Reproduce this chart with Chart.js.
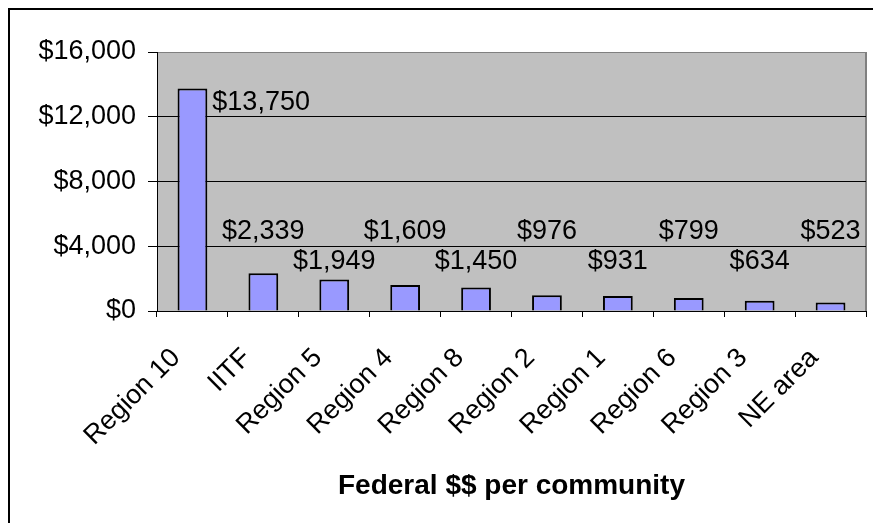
<!DOCTYPE html>
<html>
<head>
<meta charset="utf-8">
<title>Federal $$ per community</title>
<script src="https://cdn.jsdelivr.net/npm/chart.js@4.4.1/dist/chart.umd.min.js"></script>
<style>
  html, body { margin: 0; padding: 0; background: #fff; }
  #wrap { width: 873px; height: 523px; position: relative; }
</style>
</head>
<body>
<div id="wrap"><canvas id="funding-chart" width="873" height="523"></canvas></div>
<script>
const regions = ['Region 10', 'IITF', 'Region 5', 'Region 4', 'Region 8', 'Region 2', 'Region 1', 'Region 6', 'Region 3', 'NE area'];
const perCommunity = [13750, 2339, 1949, 1609, 1450, 976, 931, 799, 634, 523];
const yTicks = [0, 4000, 8000, 12000, 16000];

const FONT = "'Liberation Sans', Arial, sans-serif";

const dollars = v => '$' + Number(v).toLocaleString('en-US');

// white page, outer frame, grey plot area and its right edge
const framePlugin = {
  id: 'frame',
  beforeDraw(chart) {
    const { ctx, chartArea: a } = chart;
    ctx.save();
    ctx.fillStyle = '#fff';
    ctx.fillRect(0, 0, chart.width, chart.height);
    ctx.strokeStyle = '#000';
    ctx.lineWidth = 2;
    ctx.strokeRect(9, 9, chart.width + 20, chart.height + 20);
    ctx.fillStyle = '#c0c0c0';
    ctx.fillRect(a.left, a.top, a.right - a.left, a.bottom - a.top);
    ctx.strokeStyle = '#808080';
    ctx.beginPath();
    ctx.moveTo(a.right, a.top);
    ctx.lineTo(a.right, a.bottom);
    ctx.stroke();
    ctx.restore();
  }
};

// slanted category names, hung a little left of and below each tick
const categoryLabels = {
  id: 'categoryLabels',
  afterDraw(chart) {
    const { ctx, chartArea: a } = chart;
    const x = chart.scales.x;
    ctx.save();
    ctx.font = '27px ' + FONT;
    ctx.fillStyle = '#000';
    ctx.textAlign = 'right';
    ctx.textBaseline = 'top';
    regions.forEach((name, i) => {
      ctx.save();
      ctx.translate(x.getPixelForTick(i) - 26, a.bottom + 33);
      ctx.rotate(-Math.PI / 4);
      ctx.fillText(name, 0, 0);
      ctx.restore();
    });
    ctx.restore();
  }
};

// value labels: first one beside its bar, the rest in two staggered rows
const valueLabels = {
  id: 'valueLabels',
  afterDatasetsDraw(chart) {
    const { ctx } = chart;
    const y = chart.scales.y;
    const bars = chart.getDatasetMeta(0).data;
    ctx.save();
    ctx.font = '27px ' + FONT;
    ctx.fillStyle = '#000';
    ctx.textBaseline = 'alphabetic';
    bars.forEach((bar, i) => {
      const text = dollars(perCommunity[i]);
      if (i === 0) {
        ctx.textAlign = 'left';
        ctx.fillText(text, bar.x + bar.width / 2 + 5, bar.y + 22);
      } else {
        ctx.textAlign = 'center';
        const row = i % 2 === 1 ? -7 : 23;
        ctx.fillText(text, bar.x, y.getPixelForValue(4000) + row);
      }
    });
    ctx.restore();
  }
};

new Chart(document.getElementById('funding-chart'), {
  type: 'bar',
  data: {
    labels: regions,
    datasets: [{
      data: perCommunity,
      backgroundColor: '#9999ff',
      borderColor: '#000',
      borderWidth: 2,
      barPercentage: 0.42,
      categoryPercentage: 1
    }]
  },
  options: {
    responsive: false,
    animation: false,
    layout: { padding: { top: 52, right: 7, left: 0, bottom: 0 } },
    plugins: {
      legend: { display: false },
      tooltip: { enabled: false }
    },
    scales: {
      x: {
        grid: {
          drawOnChartArea: false,
          offset: true,
          color: '#000',
          tickLength: 6
        },
        border: { color: '#000', width: 1 },
        ticks: { display: false },
        title: {
          display: true,
          text: 'Federal $$ per community',
          color: '#000',
          font: { family: FONT, size: 28, weight: 'bold' },
          padding: { top: 0, bottom: 20 }
        },
        afterFit(scale) { scale.height = 523 - 311; }
      },
      y: {
        min: 0,
        max: 16000,
        afterBuildTicks(scale) { scale.ticks = yTicks.map(v => ({ value: v })); },
        grid: {
          color: ctx => (ctx.tick && ctx.tick.value === 16000 ? '#808080' : '#000'),
          tickColor: '#000',
          tickLength: 9,
          lineWidth: 1
        },
        border: { color: '#000', width: 1 },
        ticks: {
          color: '#000',
          font: { family: FONT, size: 27 },
          padding: 12,
          callback: v => dollars(v)
        },
        afterFit(scale) { scale.width = 157; }
      }
    }
  },
  plugins: [framePlugin, valueLabels, categoryLabels]
});
</script>
</body>
</html>
